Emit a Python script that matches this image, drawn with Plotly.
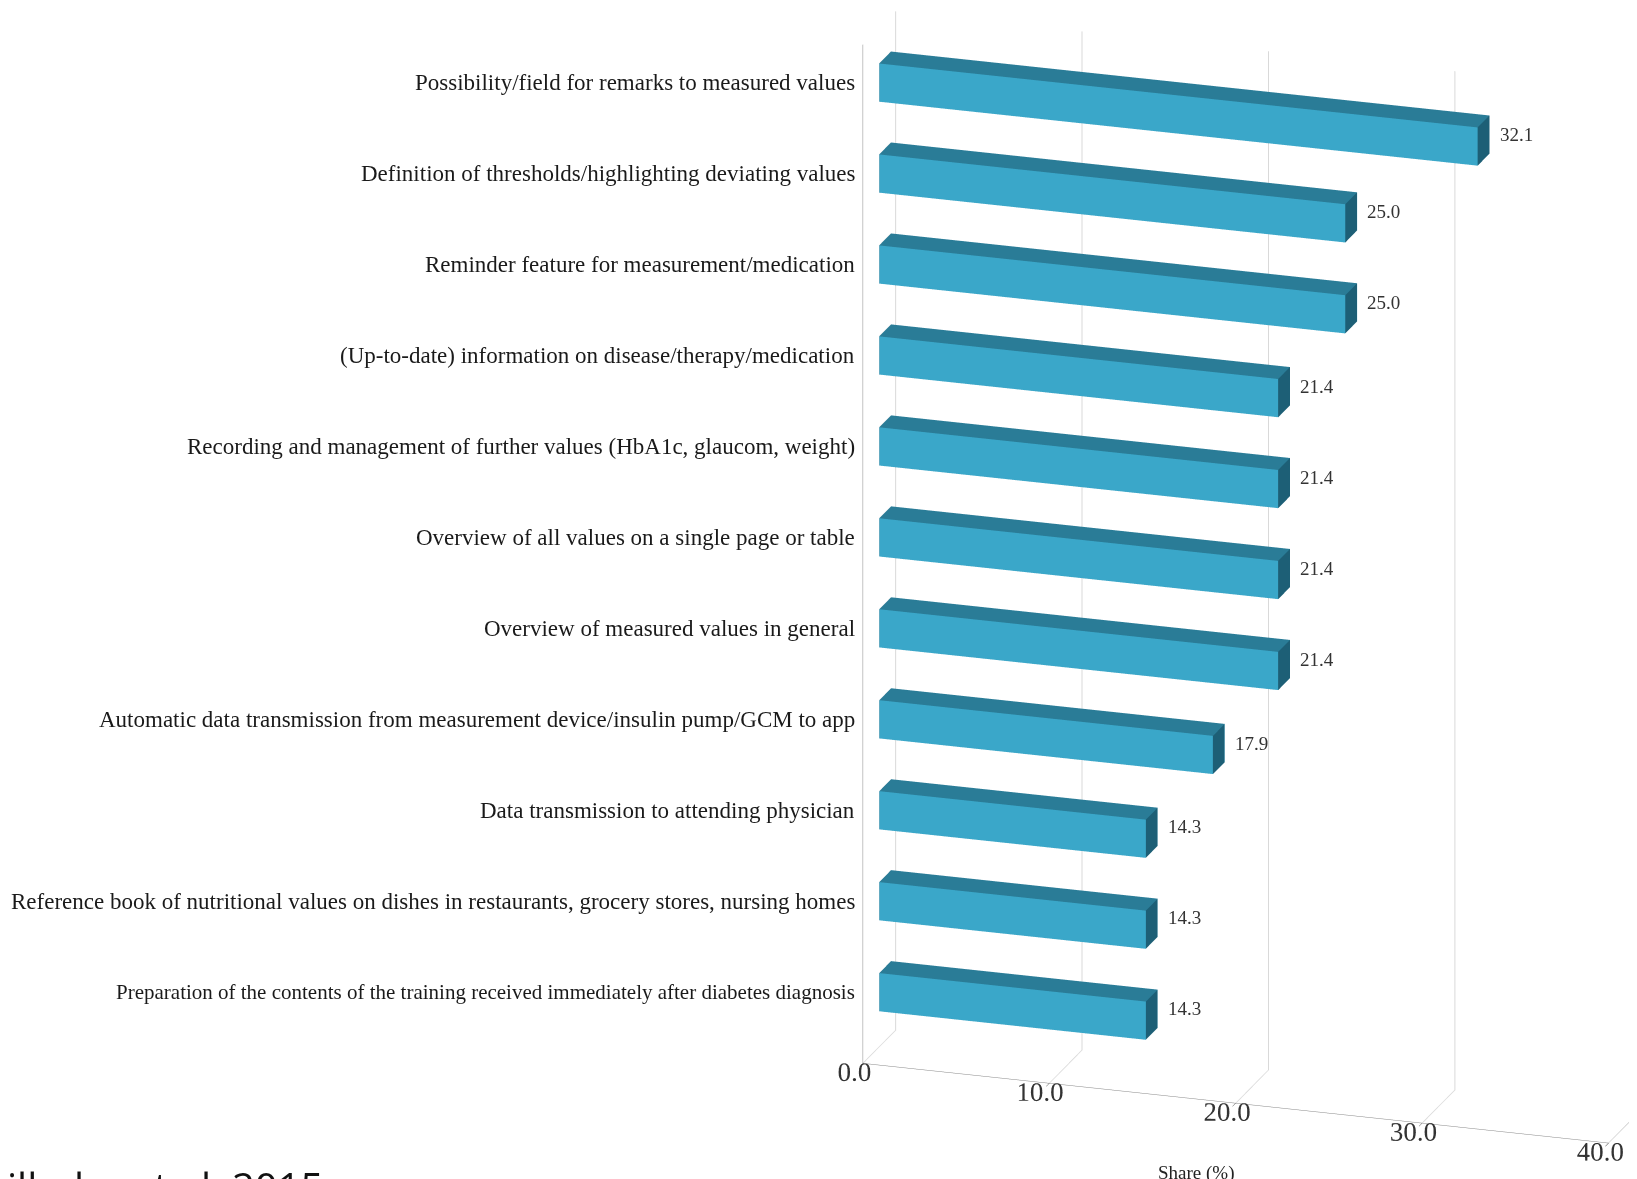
import math
import plotly.graph_objects as go

categories = [
    "Possibility/field for remarks to measured values",
    "Definition of thresholds/highlighting deviating values",
    "Reminder feature for measurement/medication",
    "(Up-to-date) information on disease/therapy/medication",
    "Recording and management of further values (HbA1c, glaucom, weight)",
    "Overview of all values on a single page or table",
    "Overview of measured values in general",
    "Automatic data transmission from measurement device/insulin pump/GCM to app",
    "Data transmission to attending physician",
    "Reference book of nutritional values on dishes in restaurants, grocery stores, nursing homes",
    "Preparation of the contents of the training received immediately after diabetes diagnosis",
]
shares = [32.1, 25.0, 25.0, 21.4, 21.4, 21.4, 21.4, 17.9, 14.3, 14.3, 14.3]
tick_values = [0, 10, 20, 30, 40]
tick_format = ".1f"
axis_title = "Share (%)"
source_text = "Wilhelm et al. 2015"

n = len(categories)
HALF_H = 0.21          # half bar thickness (z, category units)
Y0, Y1 = 0.5, 0.86     # bar depth (y, 0..1)

FRONT = "#3aa7c9"
TOP = "#2a7c97"
SIDE = "#1d5f76"

xs, ys, zs, I, J, K, fc = [], [], [], [], [], [], []
for idx, v in enumerate(shares):
    c = n - 1 - idx
    base = len(xs)
    pts = [
        (0, Y0, c - HALF_H), (v, Y0, c - HALF_H), (v, Y1, c - HALF_H), (0, Y1, c - HALF_H),
        (0, Y0, c + HALF_H), (v, Y0, c + HALF_H), (v, Y1, c + HALF_H), (0, Y1, c + HALF_H),
    ]
    for p in pts:
        xs.append(p[0]); ys.append(p[1]); zs.append(p[2])
    faces = [
        ((0, 1, 5), FRONT), ((0, 5, 4), FRONT),
        ((3, 7, 6), FRONT), ((3, 6, 2), FRONT),
        ((0, 3, 2), SIDE), ((0, 2, 1), SIDE),
        ((4, 5, 6), TOP), ((4, 6, 7), TOP),
        ((0, 4, 7), SIDE), ((0, 7, 3), SIDE),
        ((1, 2, 6), SIDE), ((1, 6, 5), SIDE),
    ]
    for (a, b, d), col in faces:
        I.append(base + a); J.append(base + b); K.append(base + d); fc.append(col)

fig = go.Figure()
fig.add_trace(go.Mesh3d(
    x=xs, y=ys, z=zs, i=I, j=J, k=K, facecolor=fc, flatshading=True,
    lighting=dict(ambient=1.0, diffuse=0.0, specular=0.0, roughness=1.0, fresnel=0.0),
    hoverinfo="skip", showscale=False,
))

annotations = []
for idx, (cat, v) in enumerate(zip(categories, shares)):
    c = n - 1 - idx
    annotations.append(dict(
        x=0, y=Y0, z=c, text=cat, showarrow=False, xanchor="right", yanchor="middle",
        xshift=-22, font=dict(family="Liberation Serif", size=23 if idx < n - 1 else 21, color="#1a1a1a"),
    ))
    annotations.append(dict(
        x=v, y=Y1, z=c, text=f"{v:.1f}", showarrow=False, xanchor="left", yanchor="middle",
        xshift=8, font=dict(family="Liberation Serif", size=19, color="#333"),
    ))

AZ, EL, DIST = math.radians(18), math.radians(18), 2.2
eye = dict(x=DIST * math.sin(AZ) * math.cos(EL), y=-DIST * math.cos(AZ) * math.cos(EL), z=DIST * math.sin(EL))
CX = -0.117
eye["x"] += CX

fig.update_layout(
    width=1637, height=1179,
    margin=dict(l=0, r=0, t=0, b=0),
    paper_bgcolor="white",
    showlegend=False,
    scene=dict(
        domain=dict(x=[0.44, 1.0], y=[0.0, 1.0]),
        aspectmode="manual",
        aspectratio=dict(x=1.33, y=0.18, z=1.83),
        xaxis=dict(
            range=[0, 40], tickvals=tick_values, tickformat=tick_format, tickangle=0,
            title=dict(text=""),
            tickfont=dict(family="Liberation Serif", size=18, color="#333"),
            showgrid=True, gridcolor="#d9d9d9", showbackground=False,
            showline=True, linecolor="#888", zeroline=False, ticks="outside",
            showspikes=False,
        ),
        yaxis=dict(range=[0, 1], showgrid=False, showticklabels=False, title=dict(text=""),
                   showline=True, linecolor="#bbb", zeroline=False, showbackground=False,
                   showspikes=False),
        zaxis=dict(range=[-0.6, n - 0.4], showgrid=False, showticklabels=False,
                   title=dict(text=""), showline=True, linecolor="#888", zeroline=False,
                   showbackground=False, ticks="", showspikes=False),
        camera=dict(
            eye=eye,
            center=dict(x=CX, y=0, z=-0.049),
            up=dict(x=0, y=0, z=1),
            projection=dict(type="orthographic"),
        ),
        annotations=annotations,
    ),
    annotations=[
        dict(
            x=0, y=0, xref="paper", yref="paper", xanchor="left", yanchor="top",
            xshift=-40, yshift=30, text=source_text, showarrow=False,
            font=dict(family="Open Sans", size=40, color="#111"),
        ),
        dict(
            x=0.726, y=0.012, xref="paper", yref="paper", xanchor="center", yanchor="middle",
            text=axis_title, showarrow=False,
            font=dict(family="Liberation Serif", size=19, color="#222"),
        ),
    ],
)

fig.write_html("out.html")
